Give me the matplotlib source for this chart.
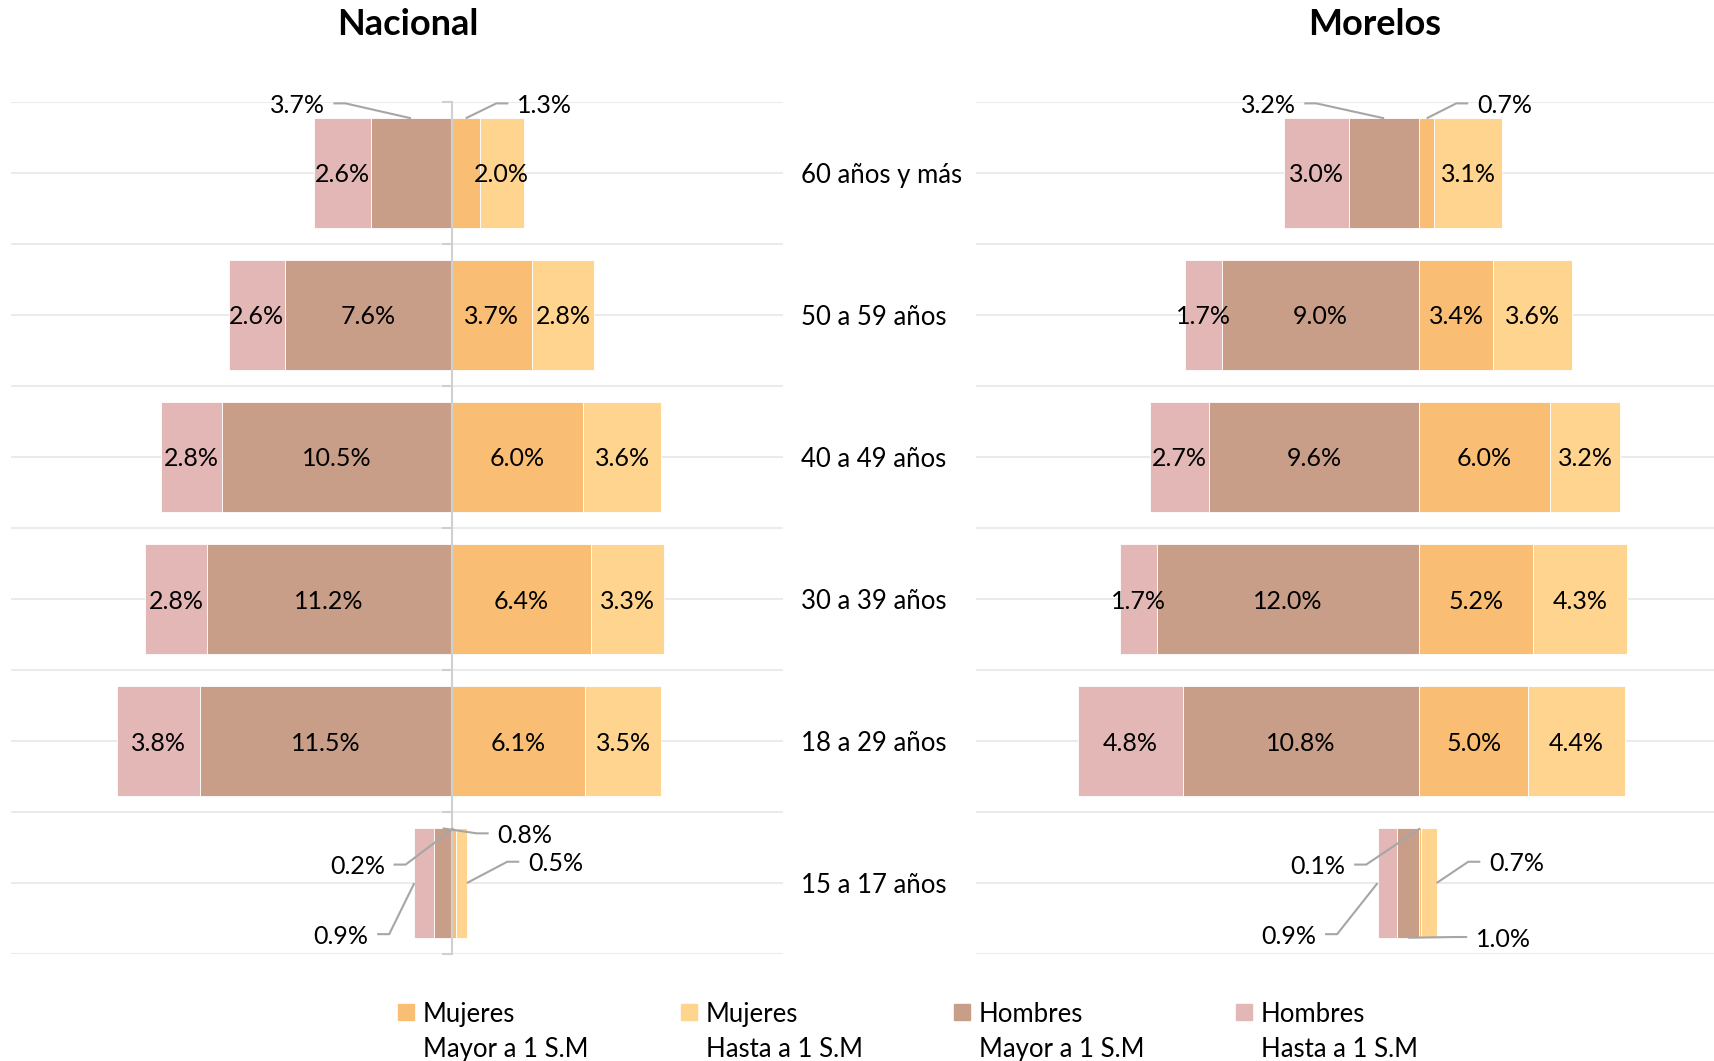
import numpy as np
import matplotlib.pyplot as plt
from matplotlib.patches import Rectangle

plt.rcParams['font.family'] = ['Lato', 'DejaVu Sans']

categorias = ["60 años y más", "50 a 59 años", "40 a 49 años",
              "30 a 39 años", "18 a 29 años", "15 a 17 años"]

# Nacional (%)
nac_h_hasta = [2.6, 2.6, 2.8, 2.8, 3.8, 0.9]
nac_h_mayor = [3.7, 7.6, 10.5, 11.2, 11.5, 0.8]
nac_m_mayor = [1.3, 3.7, 6.0, 6.4, 6.1, 0.2]
nac_m_hasta = [2.0, 2.8, 3.6, 3.3, 3.5, 0.5]

# Morelos (%)
mor_h_hasta = [3.0, 1.7, 2.7, 1.7, 4.8, 0.9]
mor_h_mayor = [3.2, 9.0, 9.6, 12.0, 10.8, 1.0]
mor_m_mayor = [0.7, 3.4, 6.0, 5.2, 5.0, 0.1]
mor_m_hasta = [3.1, 3.6, 3.2, 4.3, 4.4, 0.7]

series_names = {
    'mm': "Mujeres\nMayor a 1 S.M",
    'mh': "Mujeres\nHasta a 1 S.M",
    'hm': "Hombres\nMayor a 1 S.M",
    'hh': "Hombres\nHasta a 1 S.M",
}
colors = {'hh': '#E4B7B7', 'hm': '#C99E88', 'mm': '#F9BE74', 'mh': '#FFD48F'}

# callouts: (row, serie) -> (label x, label y, ha, anchor)
callouts_nac = {
    (0, 'hm'): (-5.8, -0.49, 'right', 'top'),
    (0, 'mm'): (3.0, -0.49, 'left', 'top'),
    (5, 'hm'): (2.1, 4.65, 'left', 'top'),
    (5, 'mm'): (-3.05, 4.87, 'right', 'top'),
    (5, 'mh'): (3.5, 4.85, 'left', 'outer'),
    (5, 'hh'): (-3.8, 5.36, 'right', 'outer'),
}
callouts_mor = {
    (0, 'hm'): (-5.65, -0.49, 'right', 'top'),
    (0, 'mm'): (2.65, -0.49, 'left', 'top'),
    (5, 'mm'): (-3.37, 4.87, 'right', 'top'),
    (5, 'mh'): (3.2, 4.85, 'left', 'outer'),
    (5, 'hh'): (-4.7, 5.36, 'right', 'outer'),
    (5, 'hm'): (2.6, 5.38, 'left', 'bottom'),
}

FS = 18
FS_CAT = 18.5
BAR_H = 0.77
GRID = '#EBEBEB'
LEAD = '#A6A6A6'
VA = 'center_baseline'


def draw_panel(ax, hh, hm, mm, mh, callouts, xlim, center_line):
    y = np.arange(len(categorias))
    hh, hm, mm, mh = map(np.array, (hh, hm, mm, mh))
    segs = {
        'hm': (-hm, np.zeros_like(hm)),
        'hh': (-hh, -hm),
        'mm': (mm, np.zeros_like(mm)),
        'mh': (mh, mm),
    }
    vals = {'hh': hh, 'hm': hm, 'mm': mm, 'mh': mh}
    for key in ['hh', 'hm', 'mm', 'mh']:
        w, left = segs[key]
        ax.barh(y, w, left=left, height=BAR_H, color=colors[key],
                edgecolor='white', linewidth=0.6, zorder=2)
        for i in range(len(y)):
            txt = f"{vals[key][i]:.1f}%"
            a, b = left[i], left[i] + w[i]
            if (i, key) in callouts:
                lx, ly, ha, anchor = callouts[(i, key)]
                if anchor == 'top':
                    ax_, ay_ = (a + b) / 2, y[i] - BAR_H / 2
                elif anchor == 'bottom':
                    ax_, ay_ = (a + b) / 2, y[i] + BAR_H / 2
                else:
                    ax_, ay_ = b, y[i]
                d = 1 if ha == 'right' else -1
                x0 = lx + 0.4 * d
                x1 = x0 + 0.55 * d
                ax.plot([x0, x1, ax_], [ly, ly, ay_], color=LEAD, lw=1.5,
                        zorder=4, solid_capstyle='butt', clip_on=False)
                ax.text(lx, ly, txt, ha=ha, va=VA, fontsize=FS,
                        color='black', zorder=5, clip_on=False)
            else:
                ax.text((a + b) / 2, y[i], txt, ha='center', va=VA,
                        fontsize=FS, color='black', zorder=5)

    ax.set_xlim(*xlim)
    ax.set_ylim(len(y) - 0.5, -0.5)
    ax.set_yticks(np.arange(-0.5, len(y), 0.5))
    ax.yaxis.grid(True, color=GRID, lw=1.5, zorder=0)
    ax.set_axisbelow(True)
    ax.set_xticks([])
    for s in ['top', 'right', 'bottom']:
        ax.spines[s].set_visible(False)
    if center_line:
        ax.spines['left'].set_position(('data', 0))
        ax.spines['left'].set_color('#D0D0D0')
        ax.spines['left'].set_linewidth(1.5)
        ax.spines['left'].set_zorder(3)
        ax.set_yticks(np.arange(-0.5, len(y), 1.0), minor=False)
        ax.tick_params(axis='y', length=7, width=1.5, color='#D0D0D0',
                       labelleft=False)
        ax.set_yticks(np.arange(0, len(y), 1.0), minor=True)
        ax.yaxis.grid(True, which='both', color=GRID, lw=1.5, zorder=0)
        ax.tick_params(axis='y', which='minor', length=0)
    else:
        ax.spines['left'].set_visible(False)
        ax.tick_params(axis='y', length=0, labelleft=False)


fig = plt.figure(figsize=(17.14, 10.61), dpi=100)
ax1 = fig.add_axes([0.0064, 0.1008, 0.4504, 0.8031])
ax2 = fig.add_axes([0.5694, 0.1008, 0.4306, 0.8031])

draw_panel(ax1, nac_h_hasta, nac_h_mayor, nac_m_mayor, nac_m_hasta,
           callouts_nac, (-20.15, 15.16), True)
draw_panel(ax2, mor_h_hasta, mor_h_mayor, mor_m_mayor, mor_m_hasta,
           callouts_mor, (-20.27, 13.49), False)

for i, c in enumerate(categorias):
    ax1.text(16.0, i, c, ha='left', va=VA, fontsize=FS_CAT,
             color='black', clip_on=False)

fig.text(0.238, 0.977, "Nacional", ha='center', va='center',
         fontsize=26, fontweight='bold')
fig.text(0.802, 0.977, "Morelos", ha='center', va='center',
         fontsize=26, fontweight='bold')

# legend
leg_x = [398, 681, 954, 1236]
for px, key in zip(leg_x, ['mm', 'mh', 'hm', 'hh']):
    fig.patches.append(Rectangle((px / 1714, 0.0385), 16 / 1714, 16 / 1061,
                                 transform=fig.transFigure,
                                 color=colors[key]))
    l1, l2 = series_names[key].split("\n")
    fig.text((px + 25) / 1714, 0.0462, l1, ha='left', va=VA,
             fontsize=FS_CAT)
    fig.text((px + 25) / 1714, 0.0132, l2, ha='left', va=VA,
             fontsize=FS_CAT)

fig.savefig("out.png", dpi=100, facecolor='white')
